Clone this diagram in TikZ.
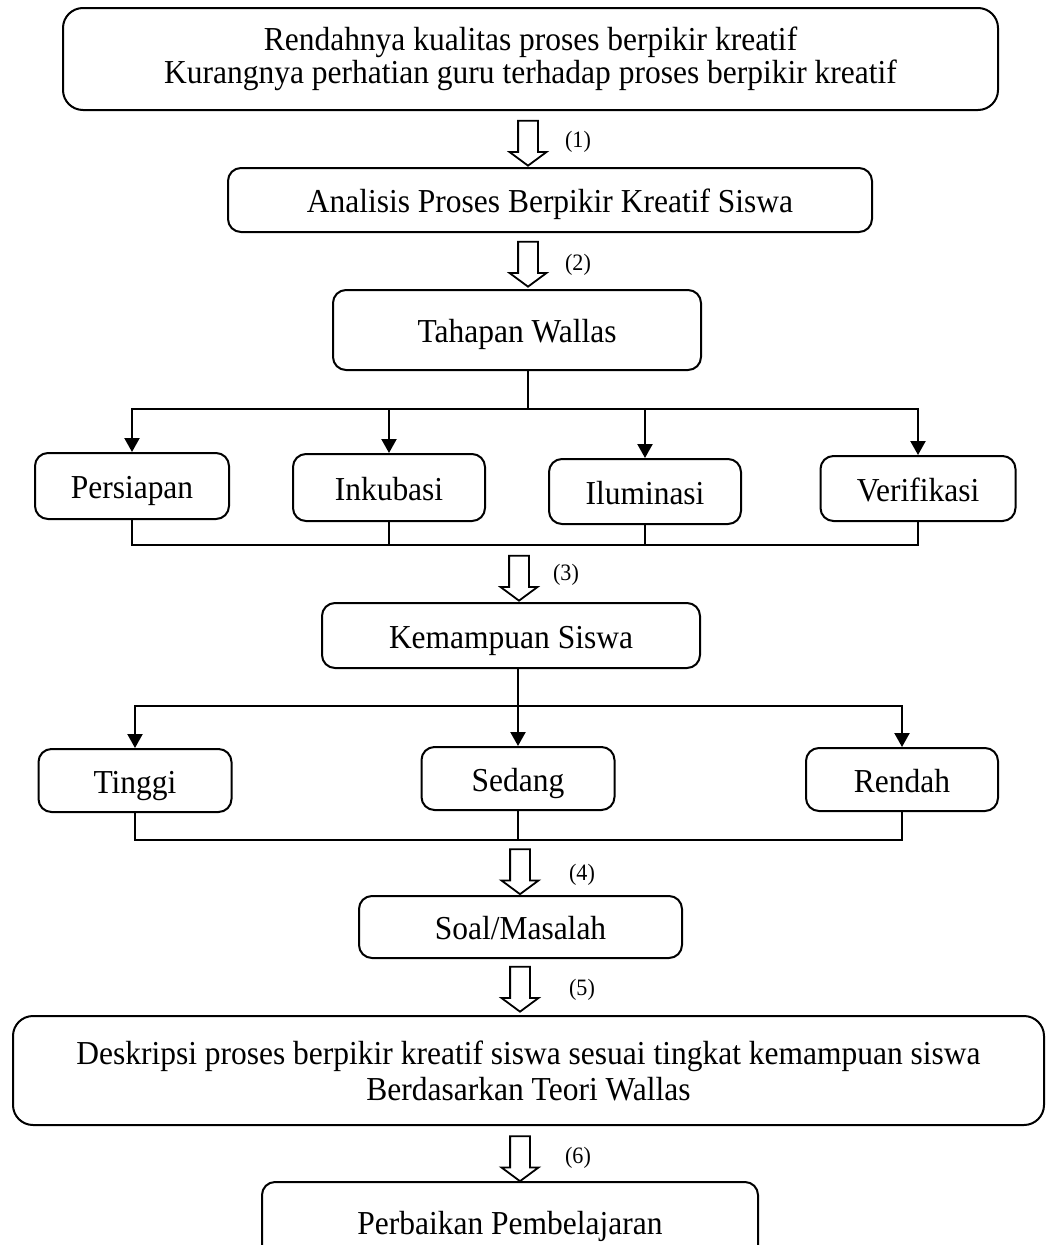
\documentclass[tikz,border=0pt]{standalone}
\usepackage{fontspec}
\setmainfont{Liberation Serif}[FakeStretch=0.94]
\usetikzlibrary{shapes,arrows.meta,positioning,calc}

\tikzset{
  box/.style={draw, line width=2pt, rounded corners=13pt, align=center, inner sep=0pt,
    text height=31pt, text depth=6pt, font=\fontsize{33.5}{33}\selectfont},
  bigbox/.style={draw, line width=2pt, rounded corners=20pt, align=center, inner sep=0pt},
  hollow/.style={single arrow, draw, line width=1.8pt, rotate=-90, inner xsep=0pt, inner ysep=9pt,
    minimum height=45pt, single arrow head extend=8.5pt, single arrow tip angle=107},
  steplabel/.style={font=\fontsize{23.5}{25}\selectfont, inner sep=0pt},
  thinline/.style={line width=1.3pt},
  thickline/.style={line width=2.2pt},
}

\begin{document}
\begin{tikzpicture}[x=1pt, y=-1pt, >={Triangle[length=14pt,width=15pt]}]
        \path[use as bounding box, clip] (0,0) rectangle (1046,1245);

        % Main boxes
        \node[bigbox, minimum width=935pt, minimum height=102pt, font=\fontsize{33.5}{32.5}\selectfont] (masalah) at (530.5,59)
            {Rendahnya kualitas proses berpikir kreatif\\Kurangnya perhatian guru terhadap proses berpikir kreatif};
        \node[box, minimum width=644pt, minimum height=64pt] (analisis) at (550,200) {Analisis Proses Berpikir Kreatif Siswa};
        \node[box, minimum width=368pt, minimum height=80pt] (wallas) at (517,330) {Tahapan Wallas};

        % Wallas stages
        \node[box, minimum width=194pt, minimum height=66pt] (persiapan) at (132,486) {Persiapan};
        \node[box, minimum width=192pt, minimum height=67pt] (inkubasi) at (389,487.5) {Inkubasi};
        \node[box, minimum width=192pt, minimum height=65pt] (iluminasi) at (645,491.5) {Iluminasi};
        \node[box, minimum width=195pt, minimum height=65pt] (verifikasi) at (918,488.5) {Verifikasi};

        \node[box, minimum width=378pt, minimum height=65pt] (kemampuan) at (511,635.5) {Kemampuan Siswa};

        % Ability levels
        \node[box, minimum width=193pt, minimum height=63pt] (tinggi) at (135,780.5) {Tinggi};
        \node[box, minimum width=193pt, minimum height=63pt] (sedang) at (518,778.5) {Sedang};
        \node[box, minimum width=192pt, minimum height=63pt] (rendah) at (902,779.5) {Rendah};

        \node[box, minimum width=323pt, minimum height=62pt] (soal) at (520.5,927) {Soal/Masalah};
        \node[bigbox, minimum width=1031pt, minimum height=109pt, font=\fontsize{33.5}{36}\selectfont] (deskripsi) at (528.5,1070.5)
            {Deskripsi proses berpikir kreatif siswa sesuai tingkat kemampuan siswa\\Berdasarkan Teori Wallas};
        \node[box, minimum width=496pt, minimum height=80pt] (perbaikan) at (510,1222) {Perbaikan Pembelajaran};

        % Hollow step arrows
        \node[hollow] (a1) at (528,139.5) {};
        \node[hollow] (a2) at (528,260.5) {};
        \node[hollow] (a3) at (519,574.5) {};
        \node[hollow] (a4) at (520,868) {};
        \node[hollow] (a5) at (520,985.5) {};
        \node[hollow] (a6) at (520,1155) {};

        \node[steplabel] (l1) at (578,142) {(1)};
        \node[steplabel] (l2) at (578,265) {(2)};
        \node[steplabel] (l3) at (566,575) {(3)};
        \node[steplabel] (l4) at (582,875) {(4)};
        \node[steplabel] (l5) at (582,990) {(5)};
        \node[steplabel] (l6) at (578,1158) {(6)};

        % Branching to the stages
        \coordinate (t1) at (528,409);
        \draw[thinline] (wallas.south -| t1) -- (t1);
        \draw[thickline, ->] (t1) -| (persiapan.north);
        \draw[thickline, ->] (t1) -| (verifikasi.north);
        \draw[thickline, ->] (t1 -| inkubasi.north) -- (inkubasi.north);
        \draw[thickline, ->] (t1 -| iluminasi.north) -- (iluminasi.north);

        \coordinate (j1) at (0,545);
        \draw[thinline] (persiapan.south) -- (persiapan.south |- j1) -- (verifikasi.south |- j1) -- (verifikasi.south);
        \draw[thinline] (inkubasi.south) -- (inkubasi.south |- j1);
        \draw[thinline] (iluminasi.south) -- (iluminasi.south |- j1);

        % Branching to the levels
        \coordinate (t2) at (518,706);
        \draw[thinline] (kemampuan.south -| t2) -- (t2);
        \draw[thickline, ->] (t2) -| (tinggi.north);
        \draw[thickline, ->] (t2) -| (rendah.north);
        \draw[thickline, ->] (t2) -- (sedang.north);

        \coordinate (j2) at (0,840);
        \draw[thinline] (tinggi.south) -- (tinggi.south |- j2) -- (rendah.south |- j2) -- (rendah.south);
        \draw[thinline] (sedang.south) -- (sedang.south |- j2);
\end{tikzpicture}
\end{document}
